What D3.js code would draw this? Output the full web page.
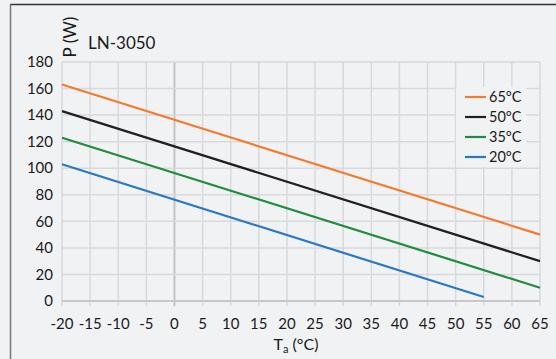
<!DOCTYPE html>
<html><head><meta charset="utf-8">
<script src="https://cdn.jsdelivr.net/npm/d3@7"></script>
<style>body{margin:0;background:#f1f2f4;}svg{display:block;}</style>
</head><body>
<script>
const seriesNames = ["65°C", "50°C", "35°C", "20°C"];
const seriesColors = ["#f47a2c", "#231f20", "#1f8c3f", "#2a78c2"];
const ta65 = [[-20, 163], [65, 50]];
const ta50 = [[-20, 143], [65, 30]];
const ta35 = [[-20, 123], [65, 10]];
const ta20 = [[-20, 103], [55, 3]];
const xTicks = [-20,-15,-10,-5,0,5,10,15,20,25,30,35,40,45,50,55,60,65];
const yTicks = [0,20,40,60,80,100,120,140,160,180];
const title = "LN-3050";

const W = 556, H = 359;
const svg = d3.select("body").append("svg").attr("width", W).attr("height", H)
  .style("font-family", "Lato, 'Open Sans', sans-serif");
svg.append("rect").attr("width", W).attr("height", H).attr("fill", "#f1f2f4");
svg.append("line").attr("x1", 10).attr("x2", W).attr("y1", 4.5).attr("y2", 4.5).attr("stroke", "#333").attr("stroke-width", 1.5);
svg.append("line").attr("x1", 10.5).attr("x2", 10.5).attr("y1", 4).attr("y2", H).attr("stroke", "#777").attr("stroke-width", 1.5);

const x = d3.scaleLinear().domain([-20, 65]).range([62, 540]);
const y = d3.scaleLinear().domain([0, 180]).range([301, 62]);

const g = svg.append("g");
g.selectAll(".vg").data(xTicks).join("line")
  .attr("x1", d => x(d)).attr("x2", d => x(d)).attr("y1", y(180)).attr("y2", y(0) + 5)
  .attr("stroke", d => d === 0 ? "#c4c4c6" : "#d9d9db").attr("stroke-width", d => d === 0 ? 2 : 1.5);
g.selectAll(".hg").data(yTicks).join("line")
  .attr("x1", x(-20)).attr("x2", x(65)).attr("y1", d => y(d)).attr("y2", d => y(d))
  .attr("stroke", d => d === 0 ? "#c8c8ca" : "#d9d9db").attr("stroke-width", d => d === 0 ? 2 : 1.5);

svg.selectAll(".yl").data(yTicks).join("text")
  .attr("x", 53).attr("y", d => y(d)).attr("dy", "0.35em").attr("text-anchor", "end")
  .attr("font-size", 15).attr("fill", "#1a1a1a").text(d => d);
svg.selectAll(".xl").data(xTicks).join("text")
  .attr("x", d => x(d)).attr("y", 324).attr("dy", "0.35em").attr("text-anchor", "middle")
  .attr("font-size", 15).attr("fill", "#1a1a1a").text(d => d);

const xt = svg.append("text").attr("x", 296).attr("y", 350).attr("text-anchor", "middle")
  .attr("font-size", 16).attr("fill", "#1a1a1a");
xt.append("tspan").text("T");
xt.append("tspan").attr("font-size", 11).attr("dy", 3).text("a");
xt.append("tspan").attr("dy", -3).text(" (°C)");
svg.append("text").attr("transform", "translate(76,37) rotate(-90)").attr("text-anchor", "middle")
  .attr("font-size", 17).attr("fill", "#1a1a1a").text("P (W)");
svg.append("text").attr("x", 88).attr("y", 49).attr("font-size", 17).attr("fill", "#1a1a1a").text(title);

const all = [ta65, ta50, ta35, ta20];
const line = d3.line().x(d => x(d[0])).y(d => y(d[1]));
svg.selectAll(".series").data(all).join("path")
  .attr("d", line).attr("fill", "none").attr("stroke", (d, i) => seriesColors[i]).attr("stroke-width", 2.2);

const lg = svg.append("g");
lg.append("rect").attr("x", 456).attr("y", 87).attr("width", 70).attr("height", 80).attr("fill", "#f1f2f4");
seriesNames.forEach((n, i) => {
  const yy = 97 + i * 20;
  lg.append("line").attr("x1", 465).attr("x2", 486).attr("y1", yy).attr("y2", yy)
    .attr("stroke", seriesColors[i]).attr("stroke-width", 2.2);
  lg.append("text").attr("x", 489).attr("y", yy).attr("dy", "0.35em").attr("font-size", 14.5)
    .attr("fill", "#1a1a1a").text(n);
});
</script>
</body></html>
